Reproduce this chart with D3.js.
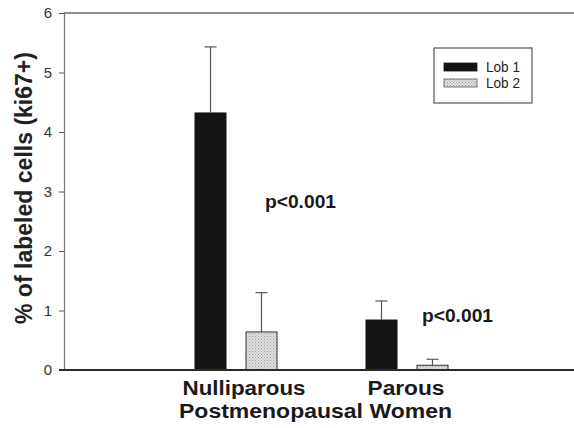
<!DOCTYPE html>
<html><head><meta charset="utf-8">
<script src="https://cdn.jsdelivr.net/npm/d3@7"></script>
<style>body{margin:0;background:#fff}svg{display:block}text{font-family:"Liberation Sans",Arial,sans-serif}</style>
</head><body>
<svg id="c" width="574" height="428"></svg>
<script>
const categories = ["Nulliparous", "Parous"];
const seriesNames = ["Lob 1", "Lob 2"];
const lob1Values = [4.32, 0.84];
const lob2Values = [0.64, 0.08];
const lob1Errors = [1.11, 0.32];
const lob2Errors = [0.66, 0.10];
const yTicks = [0, 1, 2, 3, 4, 5, 6];
const pLabels = ["p<0.001", "p<0.001"];
const xTitle = "Postmenopausal Women";
const yTitle = "% of labeled cells (ki67+)";

const svg = d3.select("#c");
const defs = svg.append("defs");
const pat = defs.append("pattern").attr("id","stip").attr("patternUnits","userSpaceOnUse")
  .attr("width",3).attr("height",3);
pat.append("rect").attr("width",3).attr("height",3).attr("fill","#e0e0e0");
pat.append("rect").attr("x",0).attr("y",0).attr("width",1).attr("height",1).attr("fill","#999");
pat.append("rect").attr("x",1.5).attr("y",1.5).attr("width",1).attr("height",1).attr("fill","#aaa");

const x0 = 64, x1 = 574, yTop = 13, yBot = 370;
const y = d3.scaleLinear().domain([0, 6]).range([yBot, yTop]);
const xg = d3.scaleBand().domain(categories).range([150.5, 492.5]).padding(0);
const xs = d3.scaleBand().domain(seriesNames).range([0, 82]).paddingInner(0.392).paddingOuter(0);

const data = categories.map((c, i) => ({
  cat: c,
  vals: [
    {s: seriesNames[0], v: lob1Values[i], e: lob1Errors[i]},
    {s: seriesNames[1], v: lob2Values[i], e: lob2Errors[i]}
  ]
}));

// top frame line
svg.append("line").attr("x1", x0).attr("x2", x1).attr("y1", yTop).attr("y2", yTop)
  .attr("stroke", "#6a6a6a").attr("stroke-width", 1.5);

// y axis
const yAxis = d3.axisLeft(y).tickValues(yTicks).tickSize(5).tickPadding(7).tickFormat(d3.format("d"));
const ya = svg.append("g").attr("transform", `translate(${x0},0)`).call(yAxis);
ya.select(".domain").attr("stroke", "#777").attr("stroke-width", 1.2);
ya.selectAll(".tick line").attr("stroke", "#555");
ya.selectAll(".tick text").attr("font-size", 15).attr("fill", "#333")
  .attr("font-family", '"Liberation Sans",Arial,sans-serif');

// bars
const groups = svg.append("g").selectAll("g").data(data).join("g")
  .attr("transform", d => `translate(${xg(d.cat) + xg.bandwidth()/2 - 41},0)`);

groups.selectAll("rect").data(d => d.vals).join("rect")
  .attr("x", d => xs(d.s)).attr("width", xs.bandwidth())
  .attr("y", d => y(d.v)).attr("height", d => y(0) - y(d.v))
  .attr("fill", (d, i) => i === 0 ? "#141414" : "url(#stip)")
  .attr("stroke", (d, i) => i === 0 ? "#141414" : "#333").attr("stroke-width", 1);

// error bars
groups.selectAll("line.err").data(d => d.vals).join("line").attr("class","err")
  .attr("x1", d => xs(d.s) + xs.bandwidth()/2).attr("x2", d => xs(d.s) + xs.bandwidth()/2)
  .attr("y1", d => y(d.v)).attr("y2", d => y(d.v + d.e))
  .attr("stroke", "#555").attr("stroke-width", 1.2);
groups.selectAll("line.cap").data(d => d.vals).join("line").attr("class","cap")
  .attr("x1", d => xs(d.s) + xs.bandwidth()/2 - 6).attr("x2", d => xs(d.s) + xs.bandwidth()/2 + 6)
  .attr("y1", d => y(d.v + d.e)).attr("y2", d => y(d.v + d.e))
  .attr("stroke", "#555").attr("stroke-width", 1.2);

// baseline
svg.append("line").attr("x1", 59).attr("x2", x1).attr("y1", y(0)).attr("y2", y(0))
  .attr("stroke", "#2a2a2a").attr("stroke-width", 2);

// category labels
svg.append("g").selectAll("text").data(categories).join("text")
  .attr("x", d => xg(d) + xg.bandwidth()/2 + (d === categories[0] ? 8 : -1))
  .attr("y", 395).attr("text-anchor", "middle")
  .attr("font-size", 20).attr("font-weight", "bold").attr("fill", "#1a1a1a")
  .attr("textLength", d => d === categories[0] ? 123 : 77).attr("lengthAdjust", "spacingAndGlyphs")
  .text(d => d);

svg.append("text").attr("x", 315.5).attr("y", 418).attr("text-anchor", "middle")
  .attr("font-size", 20.5).attr("font-weight", "bold").attr("fill", "#1a1a1a")
  .attr("textLength", 273).attr("lengthAdjust", "spacingAndGlyphs")
  .text(xTitle);

// y title
svg.append("text").attr("transform", "translate(32,188) rotate(-90)")
  .attr("text-anchor", "middle").attr("font-size", 23).attr("font-weight", "bold").attr("fill", "#222")
  .attr("textLength", 272).attr("lengthAdjust", "spacingAndGlyphs")
  .text(yTitle);

// p labels
const pPos = [{x: 265, y: 208}, {x: 422, y: 322}];
svg.append("g").selectAll("text").data(pLabels).join("text")
  .attr("x", (d, i) => pPos[i].x).attr("y", (d, i) => pPos[i].y)
  .attr("font-size", 19).attr("font-weight", "bold").attr("fill", "#1a1a1a")
  .attr("textLength", 71).attr("lengthAdjust", "spacingAndGlyphs")
  .text(d => d);

// legend
const lg = svg.append("g");
lg.append("rect").attr("x", 434).attr("y", 48).attr("width", 98).attr("height", 55)
  .attr("fill", "#fff").attr("stroke", "#555").attr("stroke-width", 1.2);
const li = lg.selectAll("g").data(seriesNames).join("g")
  .attr("transform", (d, i) => `translate(444,${63 + i * 16})`);
li.append("rect").attr("width", 33).attr("height", 8)
  .attr("fill", (d, i) => i === 0 ? "#141414" : "url(#stip)")
  .attr("stroke", (d, i) => i === 0 ? "#141414" : "#555").attr("stroke-width", 0.8);
li.append("text").attr("x", 42).attr("y", 9).attr("font-size", 15).attr("fill", "#222")
  .attr("textLength", 34).attr("lengthAdjust", "spacingAndGlyphs").text(d => d);
</script>
</body></html>
